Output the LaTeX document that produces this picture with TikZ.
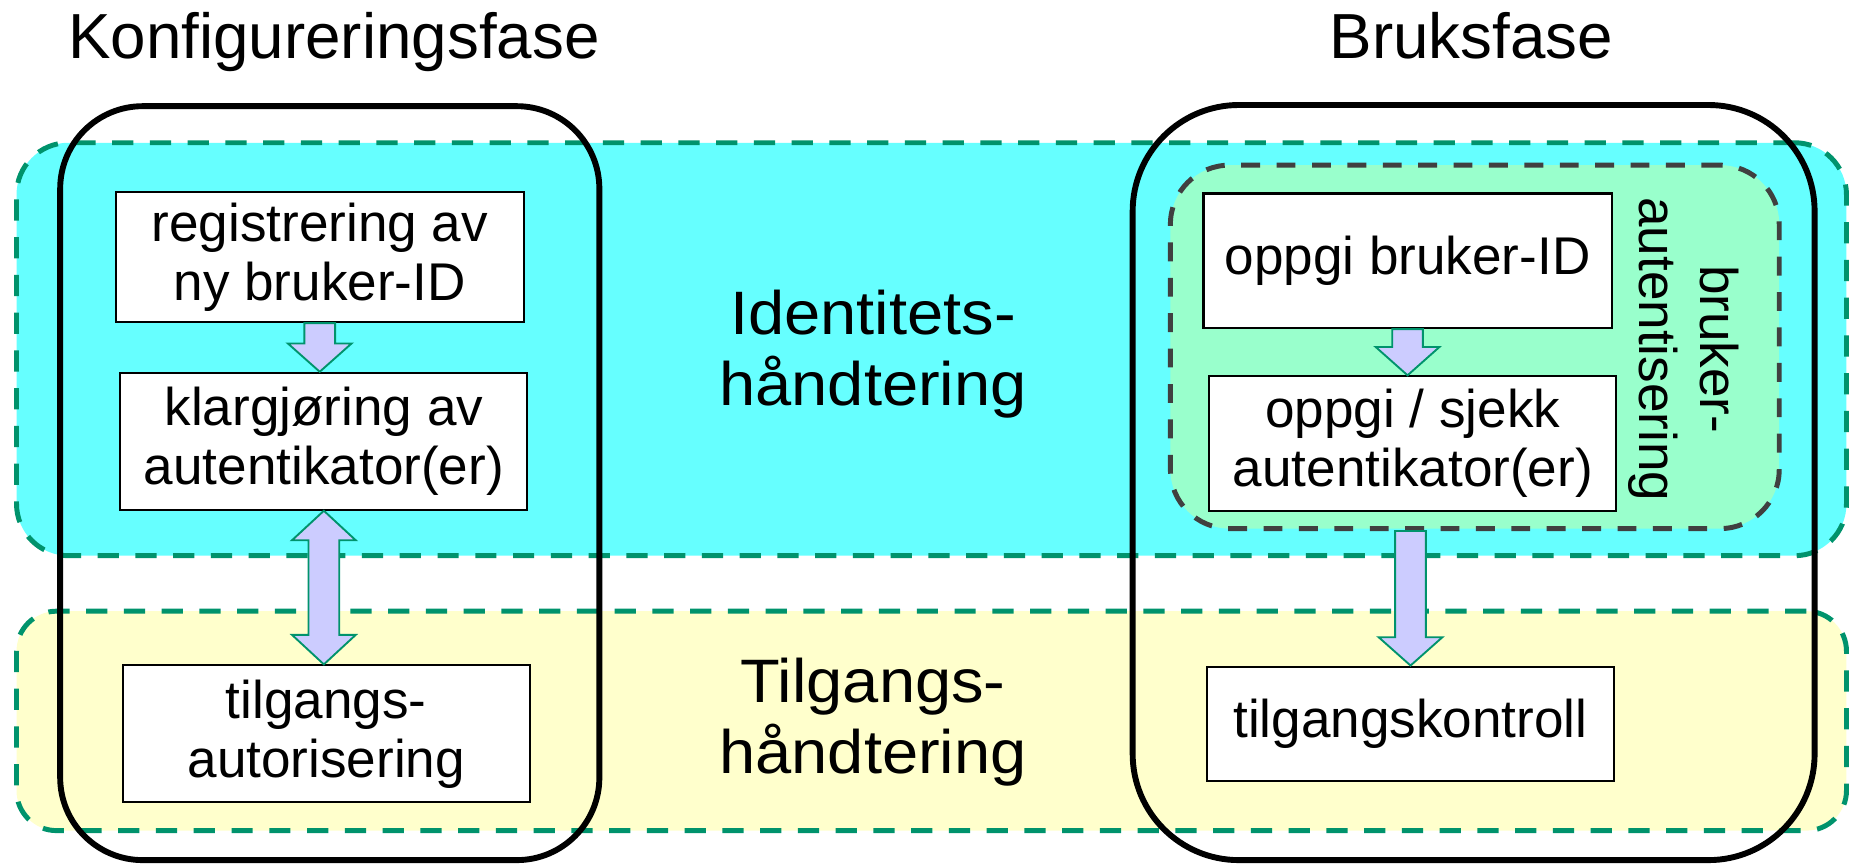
\documentclass[tikz,border=0pt]{standalone}
\usepackage{fontspec}
\setmainfont{Liberation Sans}
\newfontfamily\widefont[FakeStretch=1.06]{Liberation Sans}
\usetikzlibrary{calc}
\definecolor{cyanband}{HTML}{66FFFF}
\definecolor{yellowband}{HTML}{FFFFCC}
\definecolor{greenbox}{HTML}{99FFCC}
\definecolor{tealdash}{HTML}{00936C}
\definecolor{greydash}{HTML}{404040}
\definecolor{arrowfill}{HTML}{CCCCFF}
\tikzset{
  band/.style={draw=tealdash, line width=2.1pt, dash pattern=on 9pt off 7pt, inner sep=0pt},
  phase/.style={draw=black, line width=2.5pt, inner sep=0pt},
  procbox/.style={draw=black, line width=0.9pt, fill=white, inner sep=0pt, align=center,
    font=\fontsize{22.5}{25}\selectfont},
  bandlabel/.style={align=center, font=\widefont\fontsize{26}{30}\selectfont},
  titlelabel/.style={font=\fontsize{27}{30}\selectfont, anchor=base},
  blockarrow/.style={draw=tealdash, line width=0.8pt, fill=arrowfill, line join=miter}
}
\newcommand\blockdown[2]{%
  \draw[blockarrow] ($(#1)+(-13,0)$) -- ($(#1)+(13,0)$) -- ($(#2)+(13,-24)$) -- ($(#2)+(27,-24)$)
    -- (#2) -- ($(#2)+(-27,-24)$) -- ($(#2)+(-13,-24)$) -- cycle;}
\newcommand\blockboth[2]{%
  \draw[blockarrow] (#1) -- ($(#1)+(27,25)$) -- ($(#1)+(13,25)$) -- ($(#2)+(13,-25)$) -- ($(#2)+(27,-25)$)
    -- (#2) -- ($(#2)+(-27,-25)$) -- ($(#2)+(-13,-25)$) -- ($(#1)+(-13,25)$) -- ($(#1)+(-27,25)$) -- cycle;}
\begin{document}
\begin{tikzpicture}[x=0.5pt,y=-0.5pt]
\useasboundingbox (0,0) rectangle (1568,732);
% bands
\node[band, fill=cyanband, rounded corners=22pt, minimum width=775.5pt, minimum height=175pt] (identband) at (789.5,296) {};
\node[band, fill=yellowband, rounded corners=17pt, minimum width=775.5pt, minimum height=93pt] (accessband) at (789.5,611) {};
% phases
\node[phase, rounded corners=35pt, minimum width=228.5pt, minimum height=319.5pt] (konfig) at (279.5,409.5) {};
\node[phase, rounded corners=45pt, minimum width=289pt, minimum height=320pt] (bruk) at (1249,409) {};
% authentication group
\node[draw=greydash, fill=greenbox, line width=2.1pt, dash pattern=on 8pt off 7pt, rounded corners=25pt,
      minimum width=258pt, minimum height=154pt, inner sep=0pt] (auth) at (1250,294) {};
% titles
\node[titlelabel] (tkonfig) at (283,50) {Konfigureringsfase};
\node[titlelabel] (tbruk) at (1247,50) {Bruksfase};
% band labels
\node[bandlabel] (lident) at (740,300) {Identitets-\\håndtering};
\node[bandlabel] (laccess) at (740,612) {Tilgangs-\\håndtering};
\node[align=center, rotate=-90, font=\fontsize{22.5}{26}\selectfont] (lauth) at (1427,296) {bruker-\\autentisering};
% boxes
\node[procbox, minimum width=173pt, minimum height=55pt] (reg) at (271,218) {registrering av\\ny bruker-ID};
\node[procbox, minimum width=172.5pt, minimum height=58pt] (klar) at (274.5,374) {klargjøring av\\autentikator(er)};
\node[procbox, minimum width=172.5pt, minimum height=58pt] (tilgaut) at (276.5,622) {tilgangs-\\autorisering};
\node[procbox, minimum width=173pt, minimum height=57pt] (ob) at (1193,221) {oppgi bruker-ID};
\node[procbox, minimum width=172.5pt, minimum height=57pt] (sjekk) at (1197.5,376) {oppgi / sjekk\\autentikator(er)};
\node[procbox, minimum width=172.5pt, minimum height=48.5pt] (tk) at (1195.5,613.5) {tilgangskontroll};
% arrows
\blockdown{reg.south}{reg.south |- klar.north}
\blockboth{klar.south}{klar.south |- tilgaut.north}
\blockdown{ob.south}{ob.south |- sjekk.north}
\blockdown{tk.north |- auth.south}{tk.north}
\end{tikzpicture}
\end{document}
